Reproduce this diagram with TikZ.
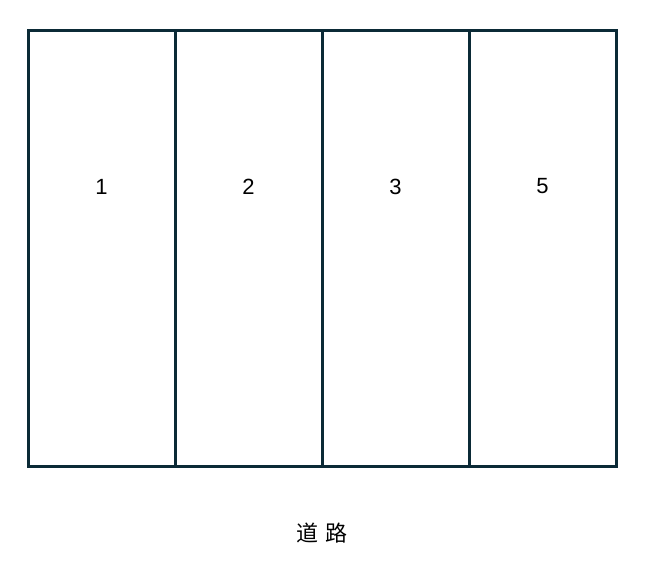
\documentclass[tikz,border=0pt]{standalone}
\usepackage{fontspec}
\setmainfont{Liberation Sans}
\newfontfamily\cjk{Noto Sans CJK SC}
\definecolor{lotline}{HTML}{0B2A36}
\begin{document}
\begin{tikzpicture}[x=1pt,y=-1pt,
  lot/.style={draw=lotline,line width=3pt,minimum width=147pt,minimum height=436pt,inner sep=0pt,outer sep=0pt},
  lbl/.style={font=\fontsize{22}{25}\selectfont,text=black,inner sep=0pt}]
\useasboundingbox[fill=white] (0,0) rectangle (648,582);
\node[lot] (r1) at (101.5,248) {};
\node[lot] (r2) at (248.5,248) {};
\node[lot] (r3) at (395.5,248) {};
\node[lot] (r4) at (542.5,248) {};
\node[lbl] (t1) at (101.5,186.5) {1};
\node[lbl] (t2) at (248.5,186.5) {2};
\node[lbl] (t3) at (395.5,186.5) {3};
\node[lbl] (t4) at (542.5,186.5) {5};
\node[lbl,font=\cjk\fontsize{22}{25}\selectfont] (road) at (322,533) {道\hspace{0.3em}路};
\end{tikzpicture}
\end{document}
